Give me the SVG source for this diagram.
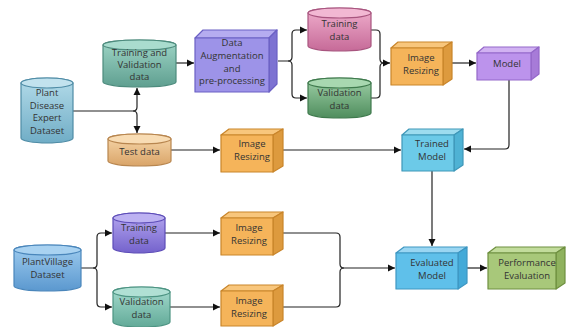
<svg xmlns="http://www.w3.org/2000/svg" width="569" height="327" viewBox="0 0 569 327">
<defs>
<style>
text{font-family:"Open Sans","Noto Sans","Liberation Sans",sans-serif;font-size:9.5px;fill:#333;text-anchor:middle}
.c{stroke-width:1.2}
.e{stroke-width:1.2}
.ln{fill:none;stroke:#222;stroke-width:1.2}
.ar{fill:none;stroke:#222;stroke-width:1.2;marker-end:url(#ah)}
.bx{stroke-width:1.2;stroke-linejoin:round}
</style>
<marker id="ah" markerUnits="userSpaceOnUse" markerWidth="8" markerHeight="8" refX="7" refY="4" orient="auto"><path d="M0,0.5 L7,4 L0,7.5 z" fill="#111"/></marker>
<linearGradient id="gBlue" x1="0" y1="0" x2="0" y2="1"><stop offset="0" stop-color="#b3dbe9"/><stop offset="1" stop-color="#70adc6"/></linearGradient>
<linearGradient id="gTeal" x1="0" y1="0" x2="0" y2="1"><stop offset="0" stop-color="#9fd6c7"/><stop offset="1" stop-color="#5f9f90"/></linearGradient>
<linearGradient id="gTan" x1="0" y1="0" x2="0" y2="1"><stop offset="0" stop-color="#f8d9ad"/><stop offset="1" stop-color="#d9a468"/></linearGradient>
<linearGradient id="gPink" x1="0" y1="0" x2="0" y2="1"><stop offset="0" stop-color="#f0afcd"/><stop offset="1" stop-color="#c66a98"/></linearGradient>
<linearGradient id="gGreen" x1="0" y1="0" x2="0" y2="1"><stop offset="0" stop-color="#9fd1a8"/><stop offset="1" stop-color="#4f8d5d"/></linearGradient>
<linearGradient id="gSky" x1="0" y1="0" x2="0" y2="1"><stop offset="0" stop-color="#9fcdf0"/><stop offset="1" stop-color="#5b98cf"/></linearGradient>
<linearGradient id="gPurp" x1="0" y1="0" x2="0" y2="1"><stop offset="0" stop-color="#b5a8f0"/><stop offset="1" stop-color="#7462cc"/></linearGradient>
<linearGradient id="gTeal2" x1="0" y1="0" x2="0" y2="1"><stop offset="0" stop-color="#a6dccf"/><stop offset="1" stop-color="#62aa98"/></linearGradient>
</defs>
<rect width="569" height="327" fill="#ffffff"/>

<g id="connectors">
<path class="ln" d="M73,111 H133 Q137,111 137,107"/>
<path class="ar" d="M137,107 V88"/>
<path class="ln" d="M133,111 Q137,111 137,115"/>
<path class="ar" d="M137,115 V133"/>
<path class="ar" d="M176,63 H194"/>
<path class="ar" d="M278,61 H288 Q292,61 292,57 V34 Q292,30 296,30 H307"/>
<path class="ar" d="M288,61 Q292,61 292,65 V94 Q292,98 296,98 H307"/>
<path class="ln" d="M371,30 H376 Q380,30 380,34 V59 Q380,63 384,63"/>
<path class="ln" d="M371,98 H376 Q380,98 380,94 V67 Q380,63 384,63"/>
<path class="ar" d="M384,63 H390"/>
<path class="ar" d="M452,63 H476"/>
<path class="ar" d="M509,80 V145 Q509,149 505,149 H464"/>
<path class="ar" d="M171,150 H220"/>
<path class="ar" d="M283,150 H401"/>
<path class="ar" d="M432,171 V246"/>
<path class="ln" d="M283,233 H336 Q340,233 340,237 V264 Q340,268 344,268"/>
<path class="ln" d="M283,307 H336 Q340,307 340,303 V272 Q340,268 344,268"/>
<path class="ar" d="M344,268 H395"/>
<path class="ar" d="M467,268 H487"/>
<path class="ln" d="M81,268 H93 Q97,268 97,264"/>
<path class="ar" d="M97,264 V237 Q97,233 101,233 H112"/>
<path class="ln" d="M93,268 Q97,268 97,272"/>
<path class="ar" d="M97,272 V303 Q97,307 101,307 H112"/>
<path class="ar" d="M165,233 H220"/>
<path class="ar" d="M170,307 H220"/>
</g>

<g id="plant-disease">
<path class="c" d="M21,83 A26,5 0 0 1 73,83 V138 A26,5 0 0 1 21,138 Z" fill="url(#gBlue)" stroke="#4f8ca6"/>
<ellipse class="e" cx="47" cy="83" rx="26" ry="5" fill="#c2e2ee" stroke="#4f8ca6"/>
<text x="47" y="96.3">Plant</text><text x="47" y="108.7">Disease</text><text x="47" y="121.1">Expert</text><text x="47" y="133.5">Dataset</text>
</g>

<g id="train-val">
<path class="c" d="M103,45 A36.5,5 0 0 1 176,45 V82 A36.5,5 0 0 1 103,82 Z" fill="url(#gTeal)" stroke="#4d8b7d"/>
<ellipse class="e" cx="139.5" cy="45" rx="36.5" ry="5" fill="#a9dcce" stroke="#4d8b7d"/>
<text x="139.5" y="55.5">Training and</text><text x="139.5" y="67.8">Validation</text><text x="139.5" y="80.1">data</text>
</g>

<g id="test-data">
<path class="c" d="M108,139 A31.5,5 0 0 1 171,139 V161 A31.5,5 0 0 1 108,161 Z" fill="url(#gTan)" stroke="#b8864f"/>
<ellipse class="e" cx="139.5" cy="139" rx="31.5" ry="5" fill="#f8dcb4" stroke="#b8864f"/>
<text x="139.5" y="155.3">Test data</text>
</g>

<g id="data-aug">
<polygon class="bx" points="195,38 203,30 277,30 269,38" fill="#b5acf0" stroke="#6b60c4"/>
<polygon class="bx" points="269,38 277,30 277,84 269,92" fill="#7d72d2" stroke="#6b60c4"/>
<rect class="bx" x="195" y="38" width="74" height="54" fill="#9d93e8" stroke="#6b60c4"/>
<text x="232" y="46.3">Data</text><text x="232" y="59">Augmentation</text><text x="232" y="71.7">and</text><text x="232" y="84.4">pre-processing</text>
</g>

<g id="training-data">
<path class="c" d="M308,13 A31.5,5 0 0 1 371,13 V46 A31.5,5 0 0 1 308,46 Z" fill="url(#gPink)" stroke="#a8557f"/>
<ellipse class="e" cx="339.5" cy="13" rx="31.5" ry="5" fill="#f2b8d3" stroke="#a8557f"/>
<text x="339.5" y="27.3">Training</text><text x="339.5" y="40.3">data</text>
</g>

<g id="validation-data">
<path class="c" d="M308,83 A31.5,5 0 0 1 371,83 V113 A31.5,5 0 0 1 308,113 Z" fill="url(#gGreen)" stroke="#3f7a4d"/>
<ellipse class="e" cx="339.5" cy="83" rx="31.5" ry="5" fill="#a8d8b0" stroke="#3f7a4d"/>
<text x="339.5" y="96.3">Validation</text><text x="339.5" y="109.3">data</text>
</g>

<g id="image-resizing-1">
<polygon class="bx" points="391,48 398,42 452,42 443,48" fill="#f8c67c" stroke="#c9852a"/>
<polygon class="bx" points="443,48 452,42 452,79 443,85" fill="#dd9a3e" stroke="#c9852a"/>
<rect class="bx" x="391" y="48" width="52" height="37" fill="#f5b45a" stroke="#c9852a"/>
<text x="421" y="61.3">Image</text><text x="421" y="74.3">Resizing</text>
</g>

<g id="model">
<polygon class="bx" points="477,53 484,47 539,47 531,53" fill="#d1b2f2" stroke="#9468c9"/>
<polygon class="bx" points="531,53 539,47 539,74 531,80" fill="#a77bd8" stroke="#9468c9"/>
<rect class="bx" x="477" y="53" width="54" height="27" fill="#bc93ec" stroke="#9468c9"/>
<text x="507" y="67.3">Model</text>
</g>

<g id="trained-model">
<polygon class="bx" points="402,135 409,129 463,129 454,135" fill="#9ddcef" stroke="#3e97b8"/>
<polygon class="bx" points="454,135 463,129 463,165 454,171" fill="#4fb2d4" stroke="#3e97b8"/>
<rect class="bx" x="402" y="135" width="52" height="36" fill="#6ccae8" stroke="#3e97b8"/>
<text x="432" y="147.3">Trained</text><text x="432" y="160.3">Model</text>
</g>

<g id="image-resizing-2">
<polygon class="bx" points="221,135 229,129 283,129 273,135" fill="#f8c67c" stroke="#c9852a"/>
<polygon class="bx" points="273,135 283,129 283,166 273,172" fill="#dd9a3e" stroke="#c9852a"/>
<rect class="bx" x="221" y="135" width="52" height="37" fill="#f5b45a" stroke="#c9852a"/>
<text x="252" y="147.3">Image</text><text x="252" y="160.3">Resizing</text>
</g>

<g id="plantvillage">
<path class="c" d="M14,250 A33.5,5 0 0 1 81,250 V286 A33.5,5 0 0 1 14,286 Z" fill="url(#gSky)" stroke="#4a86bb"/>
<ellipse class="e" cx="47.5" cy="250" rx="33.5" ry="5" fill="#a9d2f1" stroke="#4a86bb"/>
<text x="47.5" y="265.3">PlantVillage</text><text x="47.5" y="278.3">Dataset</text>
</g>

<g id="training-data-2">
<path class="c" d="M113,218 A26,5 0 0 1 165,218 V248 A26,5 0 0 1 113,248 Z" fill="url(#gPurp)" stroke="#5d4db8"/>
<ellipse class="e" cx="139" cy="218" rx="26" ry="5" fill="#bdb2f2" stroke="#5d4db8"/>
<text x="139" y="231.3">Training</text><text x="139" y="244.3">data</text>
</g>

<g id="validation-data-2">
<path class="c" d="M113,292 A28.5,5 0 0 1 170,292 V322 A28.5,5 0 0 1 113,322 Z" fill="url(#gTeal2)" stroke="#4d9483"/>
<ellipse class="e" cx="141.5" cy="292" rx="28.5" ry="5" fill="#b0e0d4" stroke="#4d9483"/>
<text x="141.5" y="305.3">Validation</text><text x="141.5" y="317.8">data</text>
</g>

<g id="image-resizing-3">
<polygon class="bx" points="221,218 229,212 283,212 273,218" fill="#f8c67c" stroke="#c9852a"/>
<polygon class="bx" points="273,218 283,212 283,249 273,255" fill="#dd9a3e" stroke="#c9852a"/>
<rect class="bx" x="221" y="218" width="52" height="37" fill="#f5b45a" stroke="#c9852a"/>
<text x="249" y="231.3">Image</text><text x="249" y="244.3">Resizing</text>
</g>

<g id="image-resizing-4">
<polygon class="bx" points="221,291 229,285 283,285 273,291" fill="#f8c67c" stroke="#c9852a"/>
<polygon class="bx" points="273,291 283,285 283,320 273,326" fill="#dd9a3e" stroke="#c9852a"/>
<rect class="bx" x="221" y="291" width="52" height="35" fill="#f5b45a" stroke="#c9852a"/>
<text x="249" y="304.3">Image</text><text x="249" y="317.3">Resizing</text>
</g>

<g id="evaluated-model">
<polygon class="bx" points="396,253 404,247 467,247 458,253" fill="#9ad6f2" stroke="#3e97c2"/>
<polygon class="bx" points="458,253 467,247 467,283 458,289" fill="#44aad8" stroke="#3e97c2"/>
<rect class="bx" x="396" y="253" width="62" height="36" fill="#5fc0ea" stroke="#3e97c2"/>
<text x="432" y="266.3">Evaluated</text><text x="432" y="279.3">Model</text>
</g>

<g id="performance">
<polygon class="bx" points="488,253 496,247 565,247 556,253" fill="#c2dc9c" stroke="#6f9040"/>
<polygon class="bx" points="556,253 565,247 565,283 556,289" fill="#8fb25e" stroke="#6f9040"/>
<rect class="bx" x="488" y="253" width="68" height="36" fill="#a8c87a" stroke="#6f9040"/>
<text x="527" y="266.3">Performance</text><text x="527" y="279.3">Evaluation</text>
</g>
</svg>
